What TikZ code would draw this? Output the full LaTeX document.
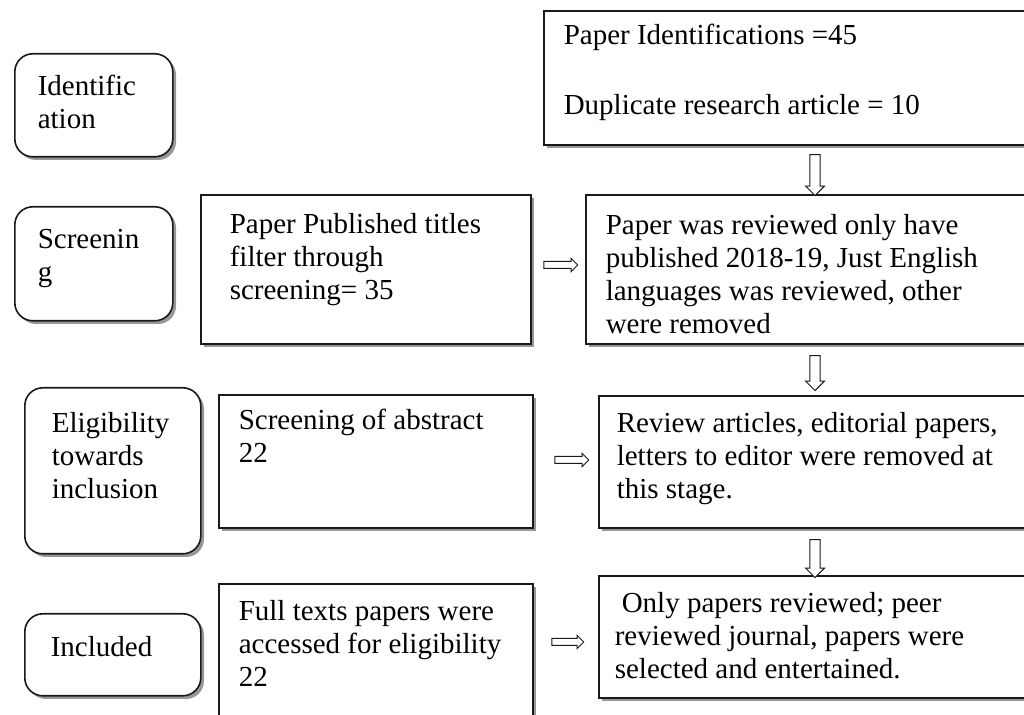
\documentclass[tikz,border=0pt]{standalone}
\usepackage{fontspec}
\setmainfont{Liberation Serif}
\usepackage{tikz}
\usetikzlibrary{shapes.arrows,shadows}
\definecolor{edge}{HTML}{1A1A1A}
\definecolor{shade}{HTML}{8C8C8C}
% text block inside a box: width, height, left gap, top gap, lines
\newcommand{\cell}[5]{\parbox[t][#2][t]{#1}{\leftskip=#3\rightskip=0pt plus 1fil\parindent=0pt\vspace*{#4}\strut#5}}
\tikzset{
  stage/.style={
    rectangle,
    anchor=north west,
    inner sep=0pt,
    draw=edge,
    line width=0.8pt,
    fill=white,
    rounded corners=9pt,
    drop shadow={shadow xshift=1.6pt, shadow yshift=-1.6pt, fill=shade, opacity=0.9}
  },
  stepbox/.style={
    rectangle,
    anchor=north west,
    inner sep=0pt,
    draw=edge,
    line width=0.8pt,
    fill=white,
    drop shadow={shadow xshift=1.6pt, shadow yshift=-1.6pt, fill=shade, opacity=0.9}
  },
  blockarrow/.style={
    single arrow,
    draw=edge,
    line width=0.5pt,
    fill=white,
    inner xsep=0pt,
    minimum width=0pt,
    minimum height=#1
  },
  downarrow/.style={
    blockarrow=#1,
    inner ysep=2.3pt,
    single arrow head extend=2.2pt,
    rotate=-90
  },
  sidearrow/.style={
    blockarrow=#1,
    inner ysep=1.5pt,
    single arrow head extend=1.6pt
  }
}

\begin{document}
\begin{tikzpicture}[x=0.5pt, y=-0.5pt, font=\fontsize{14.5pt}{16.5pt}\selectfont]
\useasboundingbox (0,0) rectangle (1024,715);

% phase labels
\node[stage] (ident) at (14,53) {\cell{79pt}{51.5pt}{11.5pt}{9.5pt}{Identific\\ation}};
\node[stage] (screen) at (14,206) {\cell{79pt}{57pt}{11.5pt}{9.5pt}{Screenin\\g}};
\node[stage] (elig) at (24,387) {\cell{88pt}{83pt}{13.5pt}{11pt}{Eligibility\\towards\\inclusion}};
\node[stage] (incl) at (24,613) {\cell{88pt}{41pt}{13pt}{10pt}{Included}};

% middle column
\node[stepbox] (titles) at (200,194) {\cell{165pt}{74.5pt}{14.5pt}{8pt}{Paper Published titles\\filter through\\screening= 35}};
\node[stepbox] (abstr) at (218,394) {\cell{157pt}{66.5pt}{10pt}{6pt}{Screening of abstract\\22}};
\node[stepbox] (fulltxt) at (218,583) {\cell{157pt}{72pt}{10pt}{7pt}{Full texts papers were\\accessed for eligibility\\22}};

% right column
\node[stepbox] (found) at (543,10) {\cell{290pt}{67pt}{10pt}{5.5pt}{Paper Identifications =45\\[18.5pt]Duplicate research article = 10}};
\node[stepbox] (years) at (585,194) {\cell{270pt}{74.5pt}{10pt}{8.5pt}{Paper was reviewed only have\\published 2018-19, Just English\\languages was reviewed, other\\were removed}};
\node[stepbox] (removed) at (598,395) {\cell{265pt}{66pt}{9pt}{7pt}{Review articles, editorial papers,\\letters to editor were removed at\\this stage.}};
\node[stepbox] (kept) at (598,575) {\cell{265pt}{61pt}{8pt}{7pt}{\hspace*{3.5pt}Only papers reviewed; peer\\reviewed journal, papers were\\selected and entertained.}};

% block arrows
\node[downarrow=20.5pt] (d1) at (815,172.5) {};
\node[downarrow=17.5pt] (d2) at (815,370.5) {};
\node[downarrow=19pt] (d3) at (815,556) {};
\node[sidearrow=17pt] (r1) at (559,265) {};
\node[sidearrow=17pt] (r2) at (570,460) {};
\node[sidearrow=16pt] (r3) at (566,642) {};

\end{tikzpicture}
\end{document}
